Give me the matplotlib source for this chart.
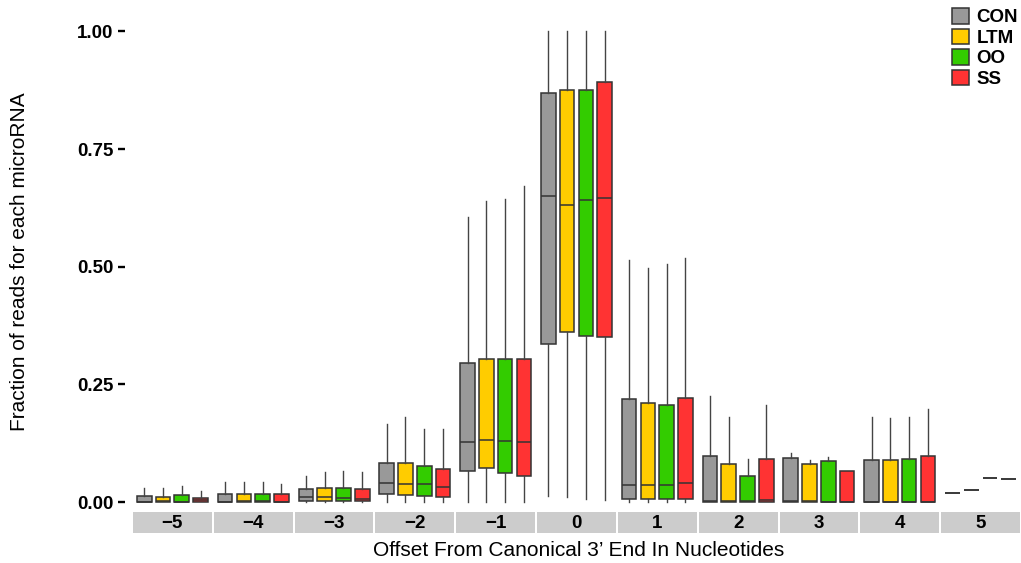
import matplotlib
matplotlib.use("Agg")
import matplotlib.pyplot as plt
from matplotlib.patches import Patch
from matplotlib.ticker import FormatStrFormatter

plt.rcParams['font.family'] = ['Liberation Sans', 'DejaVu Sans']

offsets = [-5, -4, -3, -2, -1, 0, 1, 2, 3, 4, 5]
groups = ['CON', 'LTM', 'OO', 'SS']
colors = ['#999999', '#FFCC00', '#33CC00', '#FF3333']

# per group (rows: CON, LTM, OO, SS), per offset (columns: -5 .. 5)
whis_lo = [
    [0, 0, 0, 0, 0, 0.013, 0, 0, 0, 0, 0.019],
    [0, 0, 0, 0, 0, 0.010, 0, 0, 0, 0, 0.026],
    [0, 0, 0, 0, 0, 0.006, 0, 0, 0, 0, 0.051],
    [0, 0, 0, 0, 0, 0.004, 0, 0, 0, 0, 0.049],
]
q1 = [
    [0, 0, 0.002, 0.017, 0.066, 0.336, 0.006, 0, 0, 0, 0.019],
    [0, 0, 0.002, 0.015, 0.072, 0.361, 0.006, 0, 0, 0, 0.026],
    [0, 0, 0.002, 0.013, 0.062, 0.352, 0.006, 0, 0, 0, 0.051],
    [0, 0, 0.002, 0.011, 0.055, 0.350, 0.006, 0, 0, 0, 0.049],
]
median = [
    [0.001, 0.001, 0.010, 0.040, 0.128, 0.650, 0.036, 0.002, 0.002, 0.001, 0.019],
    [0.003, 0.002, 0.010, 0.038, 0.131, 0.631, 0.036, 0.003, 0.002, 0.001, 0.026],
    [0.001, 0.002, 0.008, 0.038, 0.130, 0.642, 0.036, 0.002, 0.001, 0.001, 0.051],
    [0.004, 0.001, 0.006, 0.033, 0.128, 0.647, 0.040, 0.004, 0.001, 0.001, 0.049],
]
q3 = [
    [0.013, 0.017, 0.028, 0.082, 0.296, 0.870, 0.218, 0.098, 0.094, 0.090, 0.019],
    [0.011, 0.018, 0.030, 0.084, 0.305, 0.876, 0.211, 0.080, 0.080, 0.089, 0.026],
    [0.014, 0.017, 0.029, 0.077, 0.305, 0.875, 0.206, 0.056, 0.087, 0.091, 0.051],
    [0.009, 0.017, 0.028, 0.070, 0.305, 0.893, 0.221, 0.091, 0.066, 0.098, 0.049],
]
whis_hi = [
    [0.030, 0.043, 0.055, 0.165, 0.606, 1.0, 0.515, 0.226, 0.104, 0.181, 0.019],
    [0.030, 0.043, 0.064, 0.180, 0.639, 1.0, 0.498, 0.180, 0.089, 0.178, 0.026],
    [0.034, 0.043, 0.067, 0.155, 0.643, 1.0, 0.506, 0.092, 0.096, 0.181, 0.051],
    [0.024, 0.038, 0.064, 0.155, 0.672, 1.0, 0.518, 0.206, 0.066, 0.197, 0.049],
]

W, H = 1021, 563
EDGE = '#333333'


def px_box(x0, y0, x1, y1):
    # pixel box (top-left origin) -> figure rect
    return [x0 / W, 1 - y1 / H, (x1 - x0) / W, (y1 - y0) / H]


def draw_panel(ax, col):
    stats = []
    for g in range(len(groups)):
        stats.append(dict(med=median[g][col], q1=q1[g][col], q3=q3[g][col],
                          whislo=whis_lo[g][col], whishi=whis_hi[g][col], fliers=[]))
    bp = ax.bxp(stats, positions=range(1, 5), widths=0.78, patch_artist=True,
                showcaps=False, showfliers=False,
                boxprops=dict(edgecolor=EDGE, linewidth=1.1),
                medianprops=dict(color=EDGE, linewidth=1.1),
                whiskerprops=dict(color='#444444', linewidth=1.0))
    for patch, c in zip(bp['boxes'], colors):
        patch.set_facecolor(c)
    ax.set_xlim(0.4, 4.6)
    ax.set_ylim(-0.019, 1.02)
    ax.set_xticks([])
    for s in ax.spines.values():
        s.set_visible(False)


def main():
    fig = plt.figure(figsize=(W / 100, H / 100), dpi=100)

    left, right, gap = 133, 1020, 2
    pw = (right - left - gap * (len(offsets) - 1)) / len(offsets)

    for i, off in enumerate(offsets):
        x0 = left + i * (pw + gap)
        ax = fig.add_axes(px_box(x0, 22, x0 + pw, 511))
        draw_panel(ax, i)
        if i == 0:
            ax.spines['left'].set_position(('outward', 5.8))
            ax.set_yticks([0, 0.25, 0.5, 0.75, 1.0])
            ax.yaxis.set_major_formatter(FormatStrFormatter('%.2f'))
            ax.tick_params(axis='y', length=5, width=1.7, pad=3.2,
                           labelsize=13.5, color='black')
            for t in ax.get_yticklabels():
                t.set_fontweight('bold')
        else:
            ax.set_yticks([])

        # facet strip under each panel
        sax = fig.add_axes(px_box(x0, 512, x0 + pw, 533))
        sax.set_facecolor('#CCCCCC')
        sax.set_xticks([])
        sax.set_yticks([])
        for s in sax.spines.values():
            s.set_visible(False)
        label = str(off).replace('-', '\u2212')
        sax.text(0.5, 0.45, label, ha='center', va='center', fontsize=13.5,
                 fontweight='bold', transform=sax.transAxes)

    fig.text(579 / W, 1 - 550 / H, 'Offset From Canonical 3\u2019 End In Nucleotides',
             ha='center', va='center', fontsize=15)
    fig.text(20 / W, 1 - 262 / H, 'Fraction of reads for each microRNA',
             ha='center', va='center', rotation=90, fontsize=15)

    handles = [Patch(facecolor=c, edgecolor=EDGE, linewidth=1.1) for c in colors]
    leg = fig.legend(handles, groups, loc='upper left',
                     bbox_to_anchor=(952 / W, 1 - 8 / H), frameon=False,
                     fontsize=13.5, handlelength=0.9, handleheight=0.9,
                     handletextpad=0.4, labelspacing=0.12, borderpad=0,
                     borderaxespad=0)
    for t in leg.get_texts():
        t.set_fontweight('bold')

    fig.savefig('out.png', dpi=100)


if __name__ == "__main__":
    main()
